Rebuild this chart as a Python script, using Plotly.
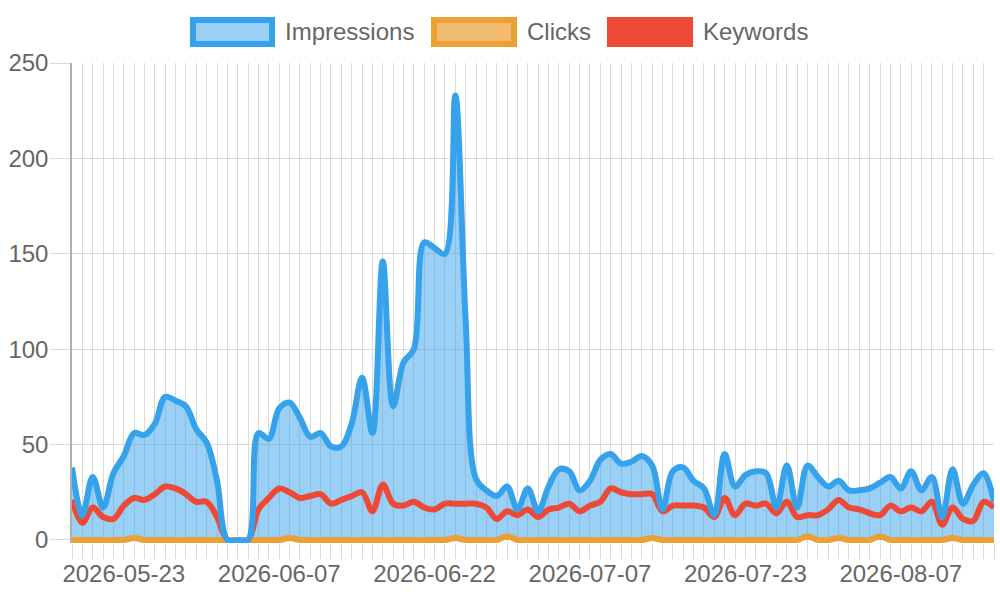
import pandas as pd
import plotly.graph_objects as go

# categories: daily dates, one day (2026-07-15) missing in the source
dates = [d.strftime('%Y-%m-%d') for d in pd.date_range('2026-05-18', '2026-08-16')]
dates.remove('2026-07-15')

label_dates = ['2026-05-23', '2026-06-07', '2026-06-22', '2026-07-07', '2026-07-23', '2026-08-07']

impressions = [38, 13, 33, 17, 35, 44, 56, 55, 61, 75,
               73, 70, 58, 51, 31, 0, 0, 0, 56, 53,
               69, 72, 64, 54, 56, 49, 49, 61, 85, 56,
               146, 70, 93, 100, 156, 153, 150, 233, 115, 32,
               26, 23, 28, 16, 27, 15, 28, 37, 36, 26,
               31, 42, 45, 40, 41, 44, 39, 16, 36, 38,
               31, 27, 13, 45, 28, 34, 36, 35, 17, 39,
               17, 39, 33, 28, 31, 26, 26, 27, 30, 33,
               27, 36, 26, 33, 12, 37, 19, 29, 35, 20]

clicks = [0, 0, 0, 0, 0, 0, 1, 0, 0, 0,
          0, 0, 0, 0, 0, 0, 0, 0, 0, 0,
          0, 1, 0, 0, 0, 0, 0, 0, 0, 0,
          0, 0, 0, 0, 0, 0, 0, 1, 0, 0,
          0, 0, 2, 0, 0, 0, 0, 0, 0, 0,
          0, 0, 0, 0, 0, 0, 1, 0, 0, 0,
          0, 0, 0, 0, 0, 0, 0, 0, 0, 0,
          0, 2, 0, 0, 1, 0, 0, 0, 2, 0,
          0, 0, 0, 0, 0, 1, 0, 0, 0, 0]

keywords = [21, 9, 17, 12, 11, 18, 22, 21, 24, 28,
            27, 24, 20, 20, 12, 0, 0, 0, 16, 22,
            27, 25, 22, 23, 24, 19, 21, 23, 25, 15,
            29, 19, 18, 20, 17, 16, 19, 19, 19, 19,
            17, 11, 15, 13, 16, 12, 16, 17, 19, 15,
            18, 20, 27, 25, 24, 24, 24, 15, 18, 18,
            18, 17, 12, 22, 13, 19, 18, 19, 14, 20,
            12, 13, 13, 16, 21, 17, 16, 14, 13, 18,
            15, 17, 15, 20, 8, 17, 11, 10, 20, 17]

BLUE = '#36a2eb'
BLUE_FILL = 'rgba(54,162,235,0.5)'
ORANGE = '#eba035'
ORANGE_FILL = 'rgba(235,160,53,0.6)'
RED = '#ec4a36'
FONT = 'Liberation Sans, Arial, sans-serif'
GRID = '#dadada'

# plot area in pixels (for the hand-drawn legend)
L, R, T, B = 72, 994, 63, 543


def px_x(x):
    return (x - L) / (R - L)


def px_y(y):
    return (B - y) / (B - T)


fig = go.Figure()

# fills first so that every line sits above them
fig.add_trace(go.Scatter(x=dates, y=impressions, mode='lines', fill='tozeroy',
                         fillcolor=BLUE_FILL, line=dict(width=0, shape='spline', smoothing=1),
                         showlegend=False, hoverinfo='skip'))
fig.add_trace(go.Scatter(x=dates, y=clicks, mode='lines', fill='tozeroy',
                         fillcolor=ORANGE_FILL, line=dict(width=0, shape='spline', smoothing=1),
                         showlegend=False, hoverinfo='skip'))

fig.add_trace(go.Scatter(x=dates, y=keywords, mode='lines', name='Keywords',
                         line=dict(color=RED, width=6, shape='spline', smoothing=1)))
fig.add_trace(go.Scatter(x=dates, y=clicks, mode='lines', name='Clicks',
                         line=dict(color=ORANGE, width=6, shape='spline', smoothing=1)))
fig.add_trace(go.Scatter(x=dates, y=impressions, mode='lines', name='Impressions',
                         line=dict(color=BLUE, width=6, shape='spline', smoothing=1)))

# custom legend: big boxes like the original
legend_items = [('Impressions', 190, 275, BLUE, BLUE_FILL),
                ('Clicks', 431, 517, ORANGE, 'rgba(235,160,53,0.7)'),
                ('Keywords', 607, 693, RED, RED)]
shapes = []
annotations = []
for name, x0, x1, col, fillc in legend_items:
    shapes.append(dict(type='rect', xref='paper', yref='paper',
                       x0=px_x(x0 + 3), x1=px_x(x1 - 3), y0=px_y(44), y1=px_y(20),
                       line=dict(color=col, width=6), fillcolor=fillc))
    annotations.append(dict(text=name, xref='paper', yref='paper',
                            x=px_x(x1 + 8), y=px_y(32), xanchor='left', yanchor='middle',
                            showarrow=False, font=dict(size=24, color='#666666', family=FONT)))

fig.update_layout(
    width=1000, height=600,
    margin=dict(l=L, r=1000 - R, t=T, b=600 - B),
    paper_bgcolor='white', plot_bgcolor='white',
    showlegend=False,
    font=dict(family=FONT, size=24, color='#666666'),
    shapes=shapes,
    annotations=annotations,
    xaxis=dict(
        type='category',
        range=[0, len(dates) - 1],
        tickmode='array',
        tickvals=dates,
        ticktext=[d if d in label_dates else '' for d in dates],
        tickangle=0,
        showgrid=True, gridcolor=GRID, gridwidth=1.3,
        ticks='outside', ticklen=15, tickcolor=GRID, tickwidth=1.3,
        ticklabelstandoff=-6,
        showline=False, zeroline=False,
        tickfont=dict(size=24, color='#666666'),
    ),
    yaxis=dict(
        range=[-1.6, 250],
        tickmode='array',
        tickvals=[0, 50, 100, 150, 200, 250],
        showgrid=True, gridcolor=GRID, gridwidth=1.3,
        ticks='outside', ticklen=20, tickcolor=GRID, tickwidth=1.3,
        ticklabelstandoff=-3,
        showline=True, linecolor='#b0b0b0', linewidth=1.5,
        zeroline=False,
        tickfont=dict(size=24, color='#666666'),
    ),
)

# drop the default page margin so the figure sits at the window's corner
fig.write_html("out.html", config={'displayModeBar': False},
               post_script="document.body.style.margin='0';")
